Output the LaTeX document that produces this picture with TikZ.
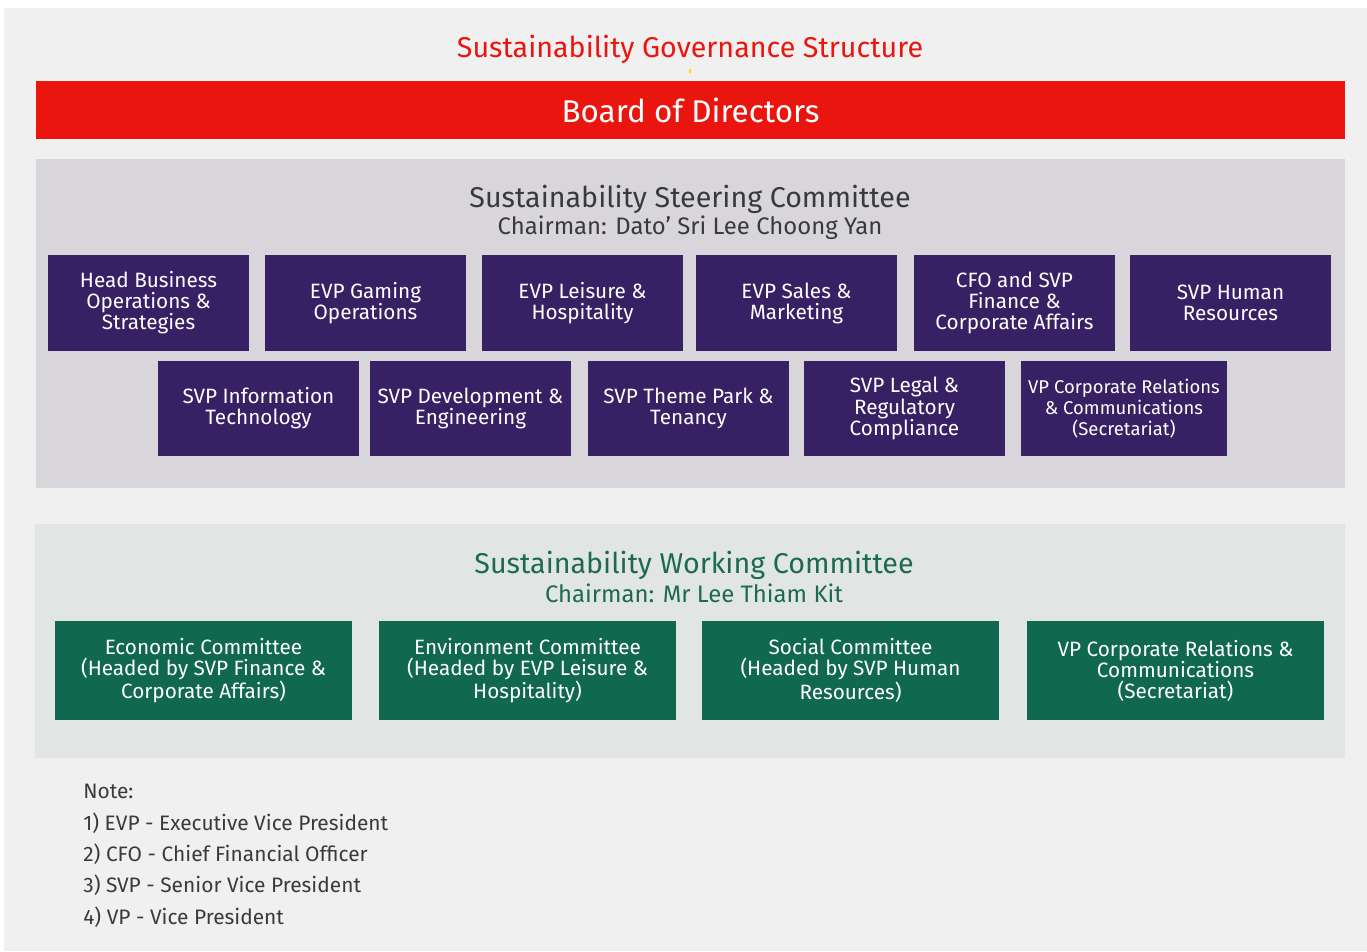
\documentclass[tikz,border=0pt]{standalone}
\usepackage{fontspec}
\setmainfont{Fira Sans}
\definecolor{pagegray}{HTML}{EFF0EF}
\definecolor{boardred}{HTML}{EB1510}
\definecolor{steerbg}{HTML}{D8D6DB}
\definecolor{execpurple}{HTML}{372063}
\definecolor{workbg}{HTML}{E1E6E5}
\definecolor{commgreen}{HTML}{10684E}
\definecolor{workgreen}{HTML}{1D6A50}
\definecolor{inkgray}{HTML}{3A3A3A}
\begin{document}
\begin{tikzpicture}
		[x=0.02cm,y=-0.02cm,
		exec/.style={fill=execpurple,text=white,align=center,inner sep=0pt,
minimum width=4.02cm,minimum height=1.92cm,font=\fontsize{11.8}{12}\selectfont},
		comm/.style={fill=commgreen,text=white,align=center,inner sep=0pt,
minimum width=5.94cm,minimum height=1.98cm,font=\fontsize{11.8}{12}\selectfont},
		heading/.style={align=center,inner sep=0pt,font=\fontsize{16.3}{18}\selectfont},
		subheading/.style={inner sep=0pt,font=\fontsize{13.6}{15}\selectfont},
		notestyle/.style={anchor=west,inner sep=0pt,text=inkgray,font=\fontsize{11.9}{13}\selectfont}]
		\useasboundingbox (0,0) rectangle (1367,951);
		\fill[white] (0,0) rectangle (1367,951);
		\fill[pagegray] (4,8) rectangle (1367,951);
		% title and board
		\node at (690,49) (title) [heading,text=boardred] {Sustainability Governance Structure};
		\fill[yellow!80!orange] (689,69) rectangle (691,73);
		\node at (690.5,110) (board) [fill=boardred,text=white,inner sep=0pt,
minimum width=26.18cm,minimum height=1.16cm,font=\fontsize{17.9}{19}\selectfont] {Board of Directors};
		% steering committee
		\fill[steerbg] (36,159) rectangle (1345,488);
		\node at (690,199) (steer) [heading,text=inkgray] {Sustainability Steering Committee};
		\node at (690,228) (steerchair) [subheading,text=inkgray] {Chairman: Dato' Sri Lee Choong Yan};
		\node at (148.5,303) (hbo) [exec] {Head Business\\Operations \&\\Strategies};
		\node at (365.5,303) (gaming) [exec] {EVP Gaming\\Operations};
		\node at (582.5,303) (leisure) [exec] {EVP Leisure \&\\Hospitality};
		\node at (796.5,303) (sales) [exec] {EVP Sales \&\\Marketing};
		\node at (1014.5,303) (cfo) [exec] {CFO and SVP\\Finance \&\\Corporate Affairs};
		\node at (1230.5,303) (hr) [exec] {SVP Human\\Resources};
		\node at (258.5,408.5) (it) [exec] {SVP Information\\Technology};
		\node at (470.5,408.5) (dev) [exec] {SVP Development \&\\Engineering};
		\node at (688.5,408.5) (park) [exec] {SVP Theme Park \&\\Tenancy};
		\node at (904.5,408.5) (legal) [exec] {SVP Legal \&\\Regulatory\\Compliance};
		\node at (1124,408.5) (vpcr) [exec,minimum width=4.12cm,font=\fontsize{10.5}{12}\selectfont]
			{VP Corporate Relations\\\& Communications\\(Secretariat)};
		% working committee
		\fill[workbg] (35,524) rectangle (1345,758);
		\node at (694,565) (work) [heading,text=workgreen] {Sustainability Working Committee};
		\node at (694,593) (workchair) [subheading,text=workgreen] {Chairman: Mr Lee Thiam Kit};
		\node at (203.5,670.5) (econ) [comm] {Economic Committee\\(Headed by SVP Finance \&\\Corporate Affairs)};
		\node at (527.5,670.5) (env) [comm] {Environment Committee\\(Headed by EVP Leisure \&\\Hospitality)};
		\node at (850.5,670.5) (social) [comm] {Social Committee\\(Headed by SVP Human\\Resources)};
		\node at (1175.5,670.5) (secr) [comm] {VP Corporate Relations \&\\Communications\\(Secretariat)};
		% notes
		\node at (83,791) (note0) [notestyle] {Note:};
		\node at (83,823) (note1) [notestyle] {1) EVP - Executive Vice President};
		\node at (83,854) (note2) [notestyle] {2) CFO - Chief Financial Officer};
		\node at (83,885) (note3) [notestyle] {3) SVP - Senior Vice President};
		\node at (83,917) (note4) [notestyle] {4) VP - Vice President};
	\end{tikzpicture}
\end{document}
